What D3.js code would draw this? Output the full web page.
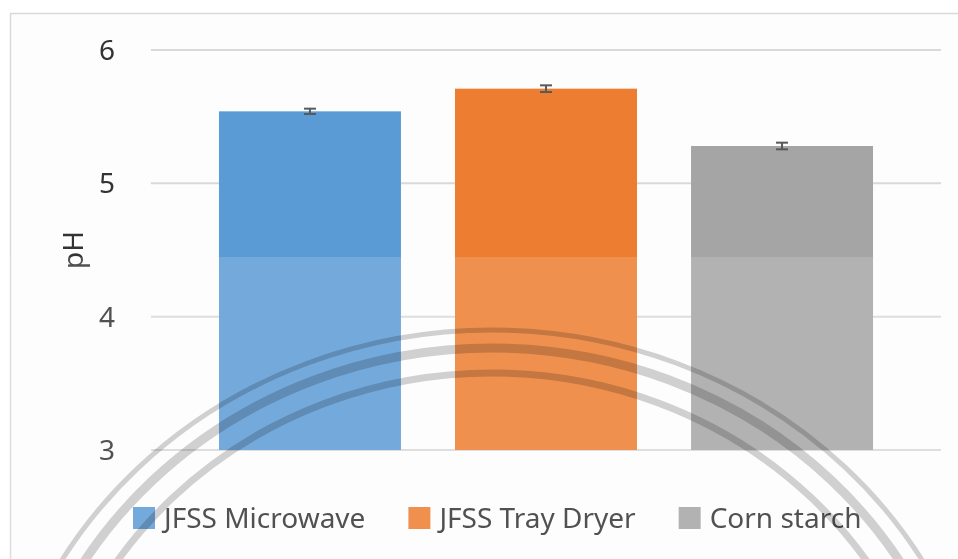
<!DOCTYPE html>
<html>
  <head>
    <meta charset="utf-8">
    <title>pH</title>
    <script type="text/javascript" src="https://cdn.jsdelivr.net/npm/d3@7"></script>
    <style>
    body {
      margin: 0;
      background: #ffffff;
    }
    text {
      font-family: "Noto Sans", "Open Sans", sans-serif;
      fill: #333333;
    }
    .grid line {
      stroke: #d9d9d9;
      stroke-width: 2px;
    }
    .err {
      stroke: #595959;
      stroke-width: 2px;
    }
    .mark {
      fill: none;
      stroke: #d2d2d2;
      mix-blend-mode: multiply;
    }
    </style>
  </head>
  <body>
    <div id="chart"></div>
    <script type="text/javascript">

      // data
      var categories = ['JFSS Microwave', 'JFSS Tray Dryer', 'Corn starch'];
      var phValues = [5.54, 5.71, 5.28];
      var phErrors = [0.02, 0.025, 0.025];
      var yTicks = [3, 4, 5, 6];
      var colors = ['#5b9bd5', '#ed7d31', '#a5a5a5'];

      var width = 958;
      var height = 559;

      var svg = d3.select('#chart')
        .append('svg')
        .attr('width', width)
        .attr('height', height);

      // chart frame
      svg.append('rect')
        .attr('x', 10.5)
        .attr('y', 13.5)
        .attr('width', 960)
        .attr('height', 560)
        .attr('fill', '#fdfdfd')
        .attr('stroke', '#d9d9d9')
        .attr('stroke-width', 1.5);

      var x = d3.scaleBand()
        .domain(categories)
        .range([151, 941])
        .paddingInner(0.229)
        .paddingOuter(0.288);

      var y = d3.scaleLinear()
        .domain([3, 6])
        .range([450, 50]);

      var color = d3.scaleOrdinal().domain(categories).range(colors);

      // gridlines
      svg.append('g')
        .attr('class', 'grid')
        .selectAll('line')
        .data(yTicks)
        .enter()
        .append('line')
        .attr('x1', 151)
        .attr('x2', 941)
        .attr('y1', function(d) { return y(d); })
        .attr('y2', function(d) { return y(d); });

      // y axis labels
      var yAxis = svg.append('g')
        .attr('transform', 'translate(115,0)')
        .call(d3.axisLeft(y).tickValues(yTicks).tickSize(0).tickPadding(0).tickFormat(d3.format('d')));
      yAxis.select('.domain').remove();
      yAxis.selectAll('text')
        .attr('font-size', '28px')
        .attr('font-family', '"Noto Sans", sans-serif')
        .attr('fill', '#333333')
        .attr('dy', '0.34em');

      svg.append('text')
        .attr('transform', 'translate(83,250) rotate(-90)')
        .attr('text-anchor', 'middle')
        .attr('font-size', '28px')
        .text('pH');

      // bars
      var data = categories.map(function(c, i) {
        return {label: c, value: phValues[i], err: phErrors[i]};
      });

      svg.selectAll('.bar')
        .data(data)
        .enter()
        .append('rect')
        .attr('class', 'bar')
        .attr('x', function(d) { return x(d.label); })
        .attr('width', x.bandwidth())
        .attr('y', function(d) { return y(d.value); })
        .attr('height', function(d) { return y(3) - y(d.value); })
        .attr('fill', function(d) { return color(d.label); });

      // error bars
      var errG = svg.selectAll('.errbar')
        .data(data)
        .enter()
        .append('g')
        .attr('class', 'err');
      errG.append('line')
        .attr('x1', function(d) { return x(d.label) + x.bandwidth() / 2; })
        .attr('x2', function(d) { return x(d.label) + x.bandwidth() / 2; })
        .attr('y1', function(d) { return y(d.value + d.err); })
        .attr('y2', function(d) { return y(d.value - d.err); });
      errG.selectAll('.cap')
        .data(function(d) { return [d.value + d.err, d.value - d.err].map(function(v) { return {label: d.label, v: v}; }); })
        .enter()
        .append('line')
        .attr('x1', function(d) { return x(d.label) + x.bandwidth() / 2 - 6; })
        .attr('x2', function(d) { return x(d.label) + x.bandwidth() / 2 + 6; })
        .attr('y1', function(d) { return y(d.v); })
        .attr('y2', function(d) { return y(d.v); });

      // legend
      var legend = svg.append('g').attr('class', 'legend');
      var lx = 133;
      categories.forEach(function(c) {
        var item = legend.append('g').attr('transform', 'translate(' + lx + ',507)');
        item.append('rect')
          .attr('width', 22)
          .attr('height', 22)
          .attr('fill', color(c));
        var t = item.append('text')
          .attr('x', 31)
          .attr('y', 21)
          .attr('font-size', '28px')
          .text(c);
        lx += 31 + t.node().getComputedTextLength() + 43;
      });

      // faded watermark over the lower part of the page
      svg.append('rect')
        .attr('x', 0)
        .attr('y', 257)
        .attr('width', width)
        .attr('height', height - 257)
        .attr('fill', '#ffffff')
        .attr('fill-opacity', 0.15);

      var wm = svg.append('g').attr('transform', 'translate(492,0)');
      wm.append('ellipse')
        .attr('class', 'mark')
        .attr('cx', 0).attr('cy', 800).attr('rx', 500).attr('ry', 470)
        .attr('stroke', '#e4e4e4')
        .attr('stroke-width', 5);
      wm.append('ellipse')
        .attr('class', 'mark')
        .attr('cx', 0).attr('cy', 800).attr('rx', 480).attr('ry', 452)
        .attr('stroke-width', 9);
      wm.append('ellipse')
        .attr('class', 'mark')
        .attr('cx', 0).attr('cy', 800).attr('rx', 452).attr('ry', 427)
        .attr('stroke-width', 7);
    </script>
  </body>
</html>
